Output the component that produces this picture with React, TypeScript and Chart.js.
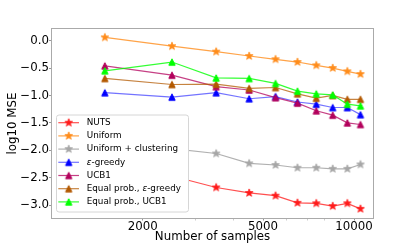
import React, { useEffect, useRef } from "react";
import { Chart, registerables } from "chart.js";

Chart.register(...registerables);

// ---- data ----
const samples = [1500, 2500, 3500, 4500, 5500, 6500, 7500, 8500, 9500, 10500];
const nuts = [-2.25, -2.47, -2.68, -2.78, -2.83, -2.96, -2.97, -3.02, -2.97, -3.07];
const uniform = [0.06, -0.1, -0.2, -0.28, -0.34, -0.39, -0.45, -0.5, -0.56, -0.61];
const uniformClustering = [-1.85, -1.97, -2.06, -2.24, -2.27, -2.32, -2.32, -2.34, -2.34, -2.26];
const epsGreedy = [-0.95, -1.03, -0.95, -1.06, -1.02, -1.12, -1.16, -1.22, -1.22, -1.35];
const ucb1 = [-0.46, -0.63, -0.84, -0.9, -1.04, -1.14, -1.28, -1.36, -1.5, -1.53];
const equalEps = [-0.69, -0.8, -0.795, -0.87, -0.855, -0.97, -1.05, -1.0, -1.07, -1.07];
const equalUcb1 = [-0.55, -0.39, -0.68, -0.69, -0.78, -0.92, -0.97, -0.99, -1.16, -1.19];

const seriesNames = [
  "NUTS",
  "Uniform",
  "Uniform + clustering",
  "ε-greedy",
  "UCB1",
  "Equal prob., ε-greedy",
  "Equal prob., UCB1",
];
const seriesValues = [nuts, uniform, uniformClustering, epsGreedy, ucb1, equalEps, equalUcb1];
const markerColors = ["#ff1a1a", "#ff8c1a", "#a6a6a6", "#0000ff", "#b3005c", "#b35900", "#00ff00"];
const lineColors = [
  "rgba(255,20,20,0.75)",
  "rgba(255,140,26,0.8)",
  "rgba(150,150,150,0.75)",
  "rgba(40,40,255,0.65)",
  "rgba(179,0,92,0.75)",
  "rgba(179,89,0,0.75)",
  "rgba(0,255,0,0.8)",
];
const markerKinds = ["star", "star", "star", "tri", "tri", "tri", "tri"];

const xTicks = [2000, 3000, 4000, 5000, 6000, 7000, 8000, 9000, 10000];
const xTickLabels = ["2000", "", "", "5000", "", "", "", "", "10000"];
const yTicks = [-3, -2.5, -2, -1.5, -1, -0.5, 0];

const FONT = "'DejaVu Sans', sans-serif";

function makeStar(color: string): HTMLCanvasElement {
  const c = document.createElement("canvas");
  c.width = 12;
  c.height = 12;
  const ctx = c.getContext("2d")!;
  ctx.beginPath();
  for (let i = 0; i < 10; i++) {
    const r = i % 2 === 0 ? 4.1 : 1.7;
    const a = -Math.PI / 2 + (i * Math.PI) / 5;
    const px = 6 + r * Math.cos(a);
    const py = 6 + r * Math.sin(a);
    if (i === 0) ctx.moveTo(px, py);
    else ctx.lineTo(px, py);
  }
  ctx.closePath();
  ctx.fillStyle = color;
  ctx.fill();
  ctx.lineWidth = 0.8;
  ctx.strokeStyle = color;
  ctx.stroke();
  return c;
}

function makeTri(color: string): HTMLCanvasElement {
  const c = document.createElement("canvas");
  c.width = 12;
  c.height = 12;
  const ctx = c.getContext("2d")!;
  const s = 3.2;
  ctx.beginPath();
  ctx.moveTo(6, 6 - s);
  ctx.lineTo(6 - s, 6 + s);
  ctx.lineTo(6 + s, 6 + s);
  ctx.closePath();
  ctx.fillStyle = color;
  ctx.fill();
  ctx.lineWidth = 1;
  ctx.strokeStyle = color;
  ctx.stroke();
  return c;
}

export default function App() {
  const ref = useRef<HTMLCanvasElement>(null);

  useEffect(() => {
    document.body.style.margin = "0";
    const markers = markerColors.map((c, i) => (markerKinds[i] === "star" ? makeStar(c) : makeTri(c)));

    const datasets = seriesValues.map((vals, i) => ({
      label: seriesNames[i],
      data: samples.map((x, j) => ({ x, y: vals[j] })),
      borderColor: lineColors[i],
      backgroundColor: markerColors[i],
      borderWidth: 1.2,
      pointStyle: markers[i] as any,
      pointRadius: 4,
      tension: 0,
      fill: false,
      order: seriesValues.length - 1 - i,
    }));

    const overlay = {
      id: "overlay",
      afterDraw(chart: any) {
        const ctx = chart.ctx as CanvasRenderingContext2D;
        const a = chart.chartArea;
        ctx.save();
        // frame
        ctx.strokeStyle = "#aaaaaa";
        ctx.lineWidth = 1;
        ctx.strokeRect(a.left - 0.5, a.top - 0.5, a.right - a.left + 1, a.bottom - a.top + 1);

        // legend
        const bx = 56.5, by = 115, bw = 132, bh = 97, r = 2.5;
        ctx.beginPath();
        ctx.moveTo(bx + r, by);
        ctx.lineTo(bx + bw - r, by);
        ctx.arcTo(bx + bw, by, bx + bw, by + r, r);
        ctx.lineTo(bx + bw, by + bh - r);
        ctx.arcTo(bx + bw, by + bh, bx + bw - r, by + bh, r);
        ctx.lineTo(bx + r, by + bh);
        ctx.arcTo(bx, by + bh, bx, by + bh - r, r);
        ctx.lineTo(bx, by + r);
        ctx.arcTo(bx, by, bx + r, by, r);
        ctx.closePath();
        ctx.fillStyle = "#ffffff";
        ctx.fill();
        ctx.strokeStyle = "#d6d6d6";
        ctx.lineWidth = 1;
        ctx.stroke();

        const fs = 8.8;
        seriesNames.forEach((name, i) => {
          const cy = 122.7 + i * 13.2;
          ctx.beginPath();
          ctx.moveTo(58.3, cy);
          ctx.lineTo(79, cy);
          ctx.strokeStyle = lineColors[i];
          ctx.lineWidth = 1.2;
          ctx.stroke();
          ctx.drawImage(markers[i], 68.7 - 6, cy - 6);
          ctx.fillStyle = "#000";
          ctx.textBaseline = "middle";
          ctx.textAlign = "left";
          let tx = 86.7;
          const parts = name.split("ε");
          parts.forEach((p, k) => {
            if (k > 0) {
              ctx.font = `italic ${fs}px ${FONT}`;
              ctx.fillText("ε", tx, cy);
              tx += ctx.measureText("ε").width;
            }
            ctx.font = `${fs}px ${FONT}`;
            ctx.fillText(p, tx, cy);
            tx += ctx.measureText(p).width;
          });
        });
        ctx.restore();
      },
    };

    const tickFont = { family: FONT, size: 11.8 };

    const chart = new Chart(ref.current!, {
      type: "line",
      data: { datasets: datasets as any },
      options: {
        animation: false,
        responsive: false,
        maintainAspectRatio: false,
        layout: { padding: { top: 29, right: 42, left: 0, bottom: 0 } },
        plugins: { legend: { display: false }, tooltip: { enabled: false } },
        scales: {
          x: {
            type: "logarithmic",
            min: 1003,
            max: 11550,
            afterBuildTicks: (s: any) => {
              s.ticks = xTicks.map((v) => ({ value: v }));
            },
            afterFit: (s: any) => {
              s.height = 26;
            },
            ticks: {
              autoSkip: false,
              maxRotation: 0,
              minRotation: 0,
              padding: -1,
              color: "#000",
              font: tickFont,
              callback: (_v: any, i: number) => xTickLabels[i],
            },
            grid: {
              display: true,
              drawOnChartArea: false,
              drawTicks: true,
              tickLength: 2.5,
              tickColor: (c: any) => (xTickLabels[c.index] ? "#999999" : "#cccccc"),
            },
            border: { display: false },
            title: {
              display: true,
              text: "Number of samples",
              color: "#000",
              font: tickFont,
              padding: { top: 0, bottom: 0 },
            },
          },
          y: {
            type: "linear",
            min: -3.237,
            max: 0.213,
            afterBuildTicks: (s: any) => {
              s.ticks = yTicks.map((v) => ({ value: v }));
            },
            afterFit: (s: any) => {
              s.width = 52;
            },
            ticks: {
              padding: 0,
              color: "#000",
              font: tickFont,
              callback: (v: any) => Number(v).toFixed(1).replace("-", "\u2212"),
            },
            grid: {
              display: true,
              drawOnChartArea: false,
              drawTicks: true,
              tickLength: 3,
              tickColor: "#999999",
            },
            border: { display: false },
            title: {
              display: true,
              text: "log10 MSE",
              color: "#000",
              font: tickFont,
              padding: { top: 5.5, bottom: 0 },
            },
          },
        },
      },
      plugins: [overlay],
    });
    return () => chart.destroy();
  }, []);

  return (
    <div style={{ position: "absolute", left: 0, top: 0, width: 415, height: 244 }}>
      <canvas ref={ref} width={415} height={244} style={{ display: "block", width: 415, height: 244 }} />
    </div>
  );
}
